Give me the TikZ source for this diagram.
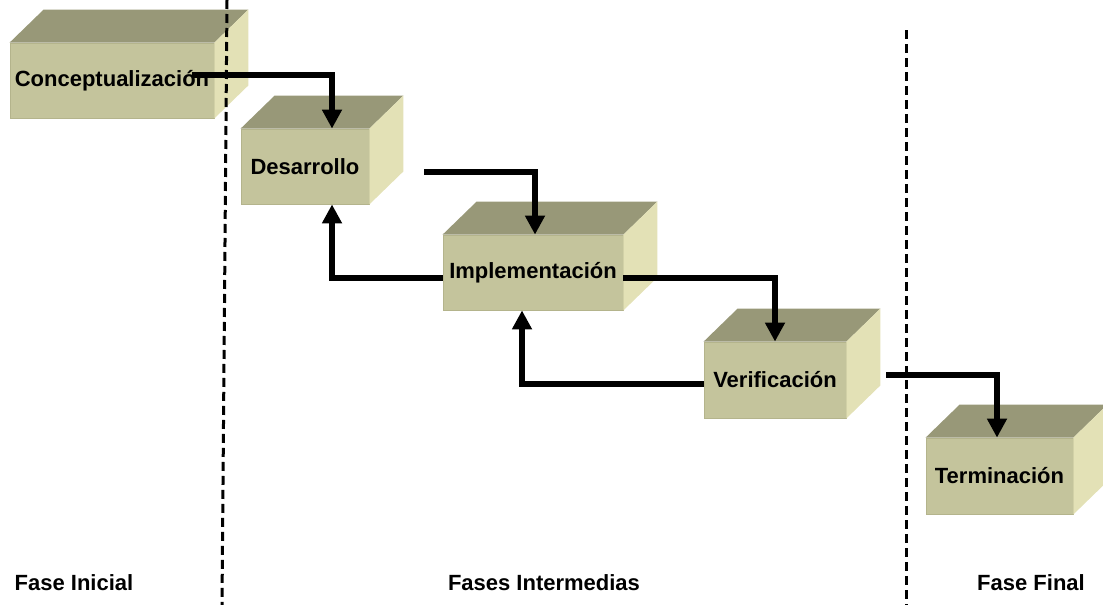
\documentclass[tikz,border=0pt]{standalone}
\usepackage{fontspec}
\setmainfont{Liberation Sans}
\usetikzlibrary{arrows.meta,calc}
\definecolor{frontc}{RGB}{196,196,156}
\definecolor{topc}{RGB}{152,152,120}
\definecolor{sidec}{RGB}{227,225,182}
\definecolor{edgec}{RGB}{180,180,140}
\tikzset{
  front/.style={rectangle, fill=frontc, draw=edgec, line width=0.8pt, inner sep=0pt,
    font=\fontsize{22}{26}\selectfont\bfseries},
  arr/.style={line width=6pt, line join=miter, line cap=butt,
    -{Triangle[width=19pt,length=19pt]}},
  phase/.style={font=\fontsize{22}{26}\selectfont\bfseries, inner sep=0pt},
  divider/.style={line width=3pt, dash pattern=on 9pt off 5pt}
}
\newcommand{\cubefaces}[1]{%
  \fill[topc] (#1.north west) -- ++(34,-33) -- ($(#1.north east)+(34,-33)$) -- (#1.north east) -- cycle;
  \fill[sidec] (#1.north east) -- ++(34,-33) -- ($(#1.south east)+(34,-33)$) -- (#1.south east) -- cycle;
}
\begin{document}
\begin{tikzpicture}[x=1pt,y=-1pt]
\useasboundingbox (0,0) rectangle (1103,605);
% boxes
\node[front, minimum width=204pt, minimum height=75pt] (concept) at (112,80.5) {Conceptualización};
\node[front, minimum width=128pt, minimum height=75pt] (desa) at (305,166.5) {Desarrollo};
\node[front, minimum width=180pt, minimum height=75pt] (impl) at (533,272.5) {Implementación};
\node[front, minimum width=142pt, minimum height=76pt] (veri) at (775,380) {Verificación};
\node[front, minimum width=147pt, minimum height=76pt] (term) at (999.5,476) {Terminación};
\cubefaces{concept}
\cubefaces{desa}
\cubefaces{impl}
\cubefaces{veri}
\cubefaces{term}
% dividers
\coordinate (d1top) at (227,0);
\coordinate (d1bot) at (222,605);
\coordinate (d2top) at (906,30);
\coordinate (d2bot) at (906,605);
\draw[divider] (d1top) -- (d1bot);
\draw[divider] (d2top) -- (d2bot);
% connectors
\draw[arr] ([xshift=-22pt,yshift=5.5pt]concept.east) -| ([xshift=27pt]desa.north);
\draw[arr] ([xshift=55pt,yshift=-5.5pt]desa.east) -| ([xshift=2pt]impl.north);
\draw[arr] ([yshift=-5.5pt]impl.west) -| ([xshift=27pt]desa.south);
\draw[arr] ([yshift=-5.5pt]impl.east) -| (veri.north);
\draw[arr] ([yshift=-4pt]veri.west) -| ([xshift=-11pt]impl.south);
\draw[arr] ([xshift=40pt,yshift=5pt]veri.east) -| ([xshift=-2.5pt]term.north);
% phase labels
\node[phase] (p1) at (74,583) {Fase Inicial};
\node[phase] (p2) at (544,583) {Fases Intermedias};
\node[phase] (p3) at (1031,583) {Fase Final};
\end{tikzpicture}
\end{document}
